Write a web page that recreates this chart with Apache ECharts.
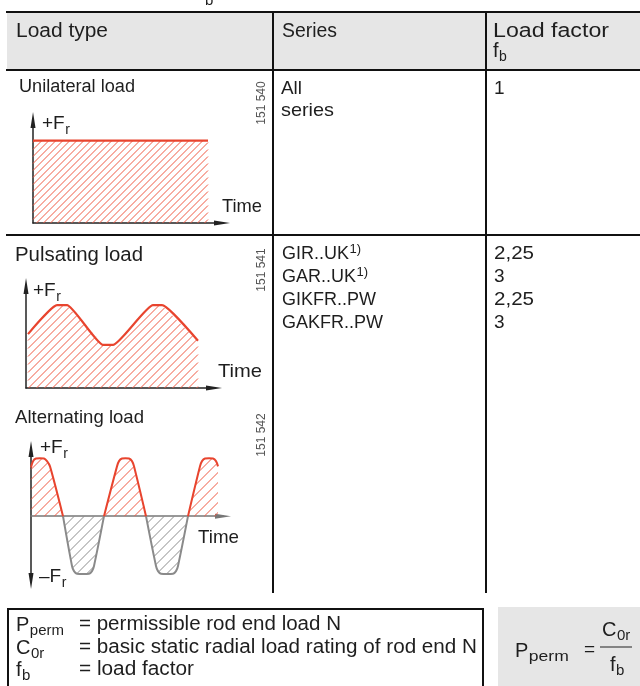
<!DOCTYPE html>
<html><head><meta charset="utf-8">
<script src="https://cdn.jsdelivr.net/npm/echarts@6/dist/echarts.min.js"></script>
<style>html,body{margin:0;padding:0;background:#fff}#c{width:640px;height:686px}</style>
</head><body><div id="c"></div>
<script>
// ---------- data ----------
const headers = ['Load type', 'Series', 'Load factor'];
const loadTypes = ['Unilateral load', 'Pulsating load', 'Alternating load'];
const drawingNos = ['151 540', '151 541', '151 542'];
const seriesRow1 = ['All', 'series'];
const factorsRow1 = ['1'];
const seriesRow2 = ['GIR..UK', 'GAR..UK', 'GIKFR..PW', 'GAKFR..PW'];
const footnoteMarks = ['1)', '1)', '', ''];
const factorsRow2 = ['2,25', '3', '2,25', '3'];
const legendSymbols = [['P', 'perm'], ['C', '0r'], ['f', 'b']];
const legendTexts = ['= permissible rod end load N', '= basic static radial load rating of rod end N', '= load factor'];

const unilateralTime = [0, 10];
const unilateralLoad = [1, 1];
const pulsatingTime = [0.1, 1.55, 2.05, 3.85, 4.35, 6.35, 6.8, 8.6];
const pulsatingLoad = [0.65, 1, 1, 0.52, 0.52, 1, 1, 0.57];
const alternatingTime = [0, 0.1, 0.25, 0.45, 0.65, 0.8, 0.95, 1.6,
  2.05, 2.15, 2.3, 2.6, 2.9, 3.05, 3.15, 3.65,
  4.3, 4.4, 4.55, 4.725, 4.9, 5.05, 5.15, 5.75,
  6.25, 6.35, 6.5, 6.8, 7.1, 7.25, 7.35, 7.85,
  8.45, 8.55, 8.7, 8.9, 9.1, 9.25, 9.35];
const alternatingLoad = [0.84, 0.95, 0.995, 1, 0.995, 0.95, 0.86, 0,
  -0.86, -0.95, -0.995, -1, -0.995, -0.95, -0.86, 0,
  0.86, 0.95, 0.995, 1, 0.995, 0.95, 0.86, 0,
  -0.86, -0.95, -0.995, -1, -0.995, -0.95, -0.86, 0,
  0.86, 0.95, 0.995, 1, 0.995, 0.95, 0.86];

// ---------- helpers ----------
const FONT = '"Liberation Sans", Arial, Helvetica, sans-serif';
const TXT = '#1e1e1e';
const RED = '#e8442e';
const RED_HATCH = '#ef5a44';
const GRAY = '#8a8a8a';
const mctx = document.createElement('canvas').getContext('2d');
function tw(t, size) { mctx.font = size + 'px ' + FONT; return mctx.measureText(t).width; }
const G = [];
// text at (x,y), optional target width w -> horizontal scale
function txt(t, x, y, size, o) {
  o = o || {};
  const m = tw(t, size);
  const sx = o.w ? o.w / m : 1;
  G.push({type: 'text', x: x, y: y, z: 20, rotation: o.rot || 0, scaleX: sx,
    style: {text: t, font: size + 'px ' + FONT, fill: o.color || TXT, textAlign: o.align || 'left', textVerticalAlign: 'middle'}});
  return x + m * sx;
}
function subTxt(main, sub, x, y, size, subSize, dy, o) {
  o = o || {};
  const x2 = txt(main, x, y, size, {w: o.w});
  txt(sub, x2 + 0.5, y + dy, subSize, {w: o.sw});
  return x2 + 0.5 + (o.sw || tw(sub, subSize));
}
function line(x1, y1, x2, y2, w, c) {
  G.push({type: 'line', z: 15, shape: {x1, y1, x2, y2}, style: {stroke: c || '#111', lineWidth: w || 2}});
}
function rect(x, y, w, h, fill, stroke, lw) {
  G.push({type: 'rect', z: 1, shape: {x, y, width: w, height: h}, style: {fill: fill || 'none', stroke: stroke || 'none', lineWidth: lw || 0}});
}

// ---------- table frame ----------
rect(7, 13, 633, 57, '#e6e6e6');
line(6, 12, 640, 12);
line(6, 70, 640, 70);
line(6, 235, 640, 235);
line(273, 12, 273, 593);
line(486, 12, 486, 593);
rect(8, 609, 475, 90, 'none', '#111', 2);
rect(498, 607, 142, 80, '#e6e6e6');

// cut-off title remnant
txt('b', 205, 1, 15);

// header
txt(headers[0], 16, 31, 20, {w: 92});
txt(headers[1], 282, 31, 20, {w: 55});
txt(headers[2], 493, 31, 20, {w: 116});
subTxt('f', 'b', 493, 51, 20, 14, 6);

// row 1
txt(loadTypes[0], 19, 87, 18, {w: 116});
txt(seriesRow1[0], 281, 89, 19, {w: 21});
txt(seriesRow1[1], 281, 111, 19, {w: 53});
txt(factorsRow1[0], 494, 89, 19);
txt(drawingNos[0], 262, 103, 12, {rot: Math.PI / 2, align: 'center', color: '#555'});
subTxt('+F', 'r', 42, 124, 19, 14, 6);
txt('Time', 222, 207, 19, {w: 40});

// row 2
txt(loadTypes[1], 15, 256, 19.5, {w: 128});
txt(drawingNos[1], 262, 270, 12, {rot: Math.PI / 2, align: 'center', color: '#555'});
subTxt('+F', 'r', 33, 291, 19, 14, 6);
txt('Time', 218, 372, 19, {w: 44});
const rowYs = [254, 277, 300, 323];
seriesRow2.forEach((s, i) => {
  const xe = txt(s, 282, rowYs[i], 18);
  if (footnoteMarks[i]) txt(footnoteMarks[i], xe + 0.5, rowYs[i] - 5, 13);
  txt(factorsRow2[i], 494, rowYs[i], 19, {w: i % 2 ? null : 40});
});

// row 3
txt(loadTypes[2], 15, 418, 19, {w: 129});
txt(drawingNos[2], 262, 435, 12, {rot: Math.PI / 2, align: 'center', color: '#555'});
subTxt('+F', 'r', 40, 448, 19, 14, 6);
txt('Time', 198, 538, 19, {w: 41});
subTxt('\u2013F', 'r', 39, 577, 19, 14, 6);

// legend box
const legYs = [625, 648, 670];
const legWidths = [262, 398, 115];
legendSymbols.forEach((s, i) => {
  subTxt(s[0], s[1], 16, legYs[i], 20, 15, 6);
  txt(legendTexts[i], 79, legYs[i], 19.5, {w: legWidths[i]});
});

// formula
subTxt('P', 'perm', 515, 651, 20, 15, 6, {sw: 40});
txt('=', 584, 650, 19);
subTxt('C', '0r', 602, 630, 20, 15, 6);
line(600, 647, 632, 647, 1, '#222');
subTxt('f', 'b', 610, 665, 20, 15, 6);

// ---------- charts ----------
function axisX(gi, max, color) {
  return {gridIndex: gi, type: 'value', min: 0, max: max,
    axisLine: {show: true, onZero: true, symbol: ['none', 'triangle'], symbolSize: [5, 16], lineStyle: {color: color || '#222', width: 1.5}},
    axisTick: {show: false}, axisLabel: {show: false}, splitLine: {show: false}};
}
function axisY(gi, min, max, both) {
  return {gridIndex: gi, type: 'value', min: min, max: max,
    axisLine: {show: true, onZero: false, symbol: [both ? 'triangle' : 'none', 'triangle'], symbolSize: [5, 16], lineStyle: {color: '#222', width: 1.5}},
    axisTick: {show: false}, axisLabel: {show: false}, splitLine: {show: false}};
}
const zip = (a, b) => a.map((v, i) => [v, b[i]]);
// split a wave into runs of one sign (zero points are shared)
function runs(times, loads, positive) {
  const out = []; let cur = [];
  times.forEach((t, i) => {
    const v = loads[i];
    const ok = positive ? v >= 0 : v <= 0;
    if (ok) cur.push([t, v]); else { if (cur.length > 1) out.push(cur); cur = []; }
  });
  if (cur.length > 1) out.push(cur);
  return out;
}
// diagonal hatch segments ("/") inside a pixel polygon
function hatchSegs(poly, s) {
  let mn = Infinity, mx = -Infinity;
  poly.forEach(p => { const v = p[0] + p[1]; mn = Math.min(mn, v); mx = Math.max(mx, v); });
  const segs = [];
  for (let c = Math.ceil(mn / s) * s + 0.5; c <= mx; c += s) {
    const ys = [];
    for (let i = 0; i < poly.length; i++) {
      const p = poly[i], q = poly[(i + 1) % poly.length];
      const fp = p[0] + p[1] - c, fq = q[0] + q[1] - c;
      if ((fp < 0) !== (fq < 0)) { const t = fp / (fp - fq); ys.push(p[1] + t * (q[1] - p[1])); }
    }
    ys.sort((a, b) => a - b);
    for (let k = 0; k + 1 < ys.length; k += 2) segs.push([c - ys[k], ys[k], c - ys[k + 1], ys[k + 1]]);
  }
  return segs;
}
function hatchSeries(gi, runList, color, spacing) {
  return {type: 'custom', xAxisIndex: gi, yAxisIndex: gi, coordinateSystem: 'cartesian2d', silent: true, animation: false, clip: false, z: 1,
    data: [[runList[0][0][0], 0]],
    renderItem: function (params, api) {
      const children = [];
      runList.forEach(run => {
        const pts = run.map(d => api.coord(d));
        const poly = [api.coord([run[0][0], 0])].concat(pts, [api.coord([run[run.length - 1][0], 0])]);
        hatchSegs(poly, spacing).forEach(sg => children.push({type: 'line', shape: {x1: sg[0], y1: sg[1], x2: sg[2], y2: sg[3]}, style: {stroke: color, lineWidth: 1}}));
      });
      return {type: 'group', children: children};
    }};
}
const altPos = alternatingTime.map((t, i) => [t, alternatingLoad[i] >= 0 ? alternatingLoad[i] : null]);
const altNeg = alternatingTime.map((t, i) => [t, alternatingLoad[i] <= 0 ? alternatingLoad[i] : null]);

const baseLine = {type: 'line', showSymbol: false, silent: true, animation: false, connectNulls: false, z: 3};

const option = {
  animation: false,
  grid: [
    {left: 33, top: 120, width: 189, height: 103, outerBoundsMode: 'none'},
    {left: 26, top: 286, width: 188, height: 102, outerBoundsMode: 'none'},
    {left: 31, top: 449, width: 192, height: 132, outerBoundsMode: 'none'}
  ],
  xAxis: [axisX(0, 10.8), axisX(1, 9.4), axisX(2, 9.6, '#777')],
  yAxis: [axisY(0, 0, 1.25), axisY(1, 0, 1.23), axisY(2, -1.12, 1.16, true)],
  series: [
    hatchSeries(0, [zip(unilateralTime, unilateralLoad)], RED_HATCH, 7),
    hatchSeries(1, [zip(pulsatingTime, pulsatingLoad)], RED_HATCH, 8),
    hatchSeries(2, runs(alternatingTime, alternatingLoad, false), '#8c8c8c', 10),
    hatchSeries(2, runs(alternatingTime, alternatingLoad, true), RED_HATCH, 10),
    Object.assign({}, baseLine, {xAxisIndex: 0, yAxisIndex: 0, data: zip(unilateralTime, unilateralLoad),
      lineStyle: {color: RED, width: 2.2}}),
    Object.assign({}, baseLine, {xAxisIndex: 1, yAxisIndex: 1, data: zip(pulsatingTime, pulsatingLoad), smooth: 0.15,
      lineStyle: {color: RED, width: 2.2}}),
    Object.assign({}, baseLine, {xAxisIndex: 2, yAxisIndex: 2, data: altNeg, smooth: 0.3,
      lineStyle: {color: GRAY, width: 2}}),
    Object.assign({}, baseLine, {xAxisIndex: 2, yAxisIndex: 2, data: altPos, smooth: 0.3,
      lineStyle: {color: RED, width: 2}})
  ],
  graphic: G
};
const chart = echarts.init(document.getElementById('c'), null, {renderer: 'canvas'});
chart.setOption(option);
</script>
</body></html>
